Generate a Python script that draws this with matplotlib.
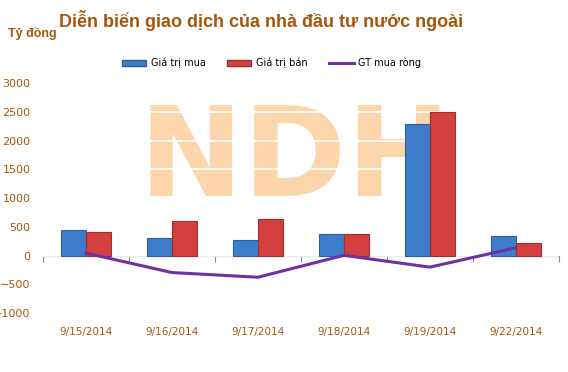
import matplotlib.pyplot as plt
import numpy as np
from matplotlib.lines import Line2D
from matplotlib.patches import Patch

# values in ty dong
dates = ['9/15/2014', '9/16/2014', '9/17/2014', '9/18/2014', '9/19/2014', '9/22/2014']
mua = [447, 301, 262, 378, 2292, 348]
ban = [405, 597, 640, 375, 2494, 214]
rong = [42, -296, -378, 3, -202, 134]

txt = '#A8550A'
blue = '#3D7DCB'
red = '#D43F3E'
purple = '#7030A0'

fig = plt.figure(figsize=(5.68, 3.72), dpi=100)
ax = fig.add_axes([0.0757, 0.1586, 0.908, 0.618])

x = np.arange(len(dates))
w = 0.29

# watermark behind everything
ax.text(0.52, 0.728, 'NDH', transform=fig.transFigure, ha='center', va='top',
        fontsize=90, fontweight='bold', color='#FCD6AA', zorder=0)

ax.set_ylim(-1000, 3000)
ax.set_xlim(-0.5, len(dates) - 0.5)
ax.set_yticks(np.arange(-1000, 3001, 500))
ax.grid(axis='y', color='white', linewidth=1.2, zorder=1)
ax.set_axisbelow(False)

ax.bar(x - w / 2, mua, w, color=blue, edgecolor='#2B5E9E', linewidth=0.8, zorder=3)
ax.bar(x + w / 2, ban, w, color=red, edgecolor='#9E2E2D', linewidth=0.8, zorder=3)
ax.plot(x, rong, color=purple, linewidth=2.2, zorder=4)

for s in ['top', 'right', 'left']:
    ax.spines[s].set_visible(False)
ax.spines['bottom'].set_position(('data', 0))
ax.spines['bottom'].set_color('#8C8C8C')
ax.spines['bottom'].set_zorder(2)
ax.set_xticks(np.arange(-0.5, len(dates), 1.0))
ax.set_xticklabels([])
ax.tick_params(axis='x', direction='out', length=4, color='#8C8C8C')
ax.tick_params(axis='y', length=0, labelsize=8, labelcolor=txt, pad=9)

sec = ax.secondary_xaxis('bottom')
sec.set_xticks(x)
sec.set_xticklabels(dates)
sec.spines['bottom'].set_visible(False)
sec.tick_params(length=0, labelsize=7.5, labelcolor=txt, pad=10)

fig.text(0.46, 0.944, 'Diễn biến giao dịch của nhà đầu tư nước ngoài', ha='center',
         va='center', fontsize=13, fontweight='bold', color=txt,
         family='Liberation Sans')
fig.text(0.014, 0.91, 'Tỷ đồng', ha='left', va='center', fontsize=9,
         fontweight='bold', color=txt, family='Liberation Sans')

handles = [Patch(facecolor=blue, edgecolor='#2B5E9E'),
           Patch(facecolor=red, edgecolor='#9E2E2D'),
           Line2D([0], [0], color=purple, linewidth=2.2)]
fig.legend(handles, ['Giá trị mua', 'Giá trị bán', 'GT mua ròng'], loc='center',
           bbox_to_anchor=(0.478, 0.83), ncol=3, frameon=False, fontsize=7,
           handlelength=2.5, handleheight=0.5, columnspacing=2.2, handletextpad=0.5)

fig.savefig('out.png', dpi=100)
